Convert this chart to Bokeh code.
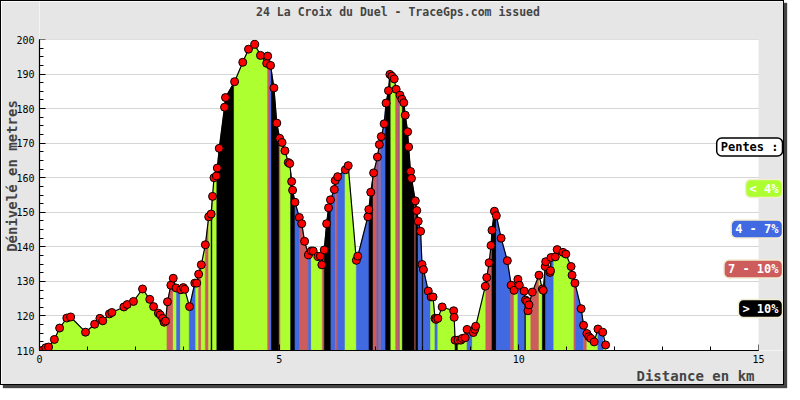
import numpy as np
from bokeh.plotting import figure
from bokeh.models import Range1d, FixedTicker, Label, BoxAnnotation, Title
from bokeh.embed import file_html
from bokeh.resources import INLINE

# ---- profile data (km, m) ----
dist_km = [0.07, 0.13, 0.19, 0.31, 0.42, 0.57, 0.65, 0.96, 1.15, 1.26, 1.32, 1.46, 1.51,
           1.76, 1.83, 1.96, 2.15, 2.30, 2.38, 2.48, 2.52, 2.57, 2.60, 2.63, 2.67, 2.74,
           2.79, 2.85, 2.95, 3.00, 3.03, 3.13, 3.24, 3.28, 3.32, 3.375, 3.46, 3.53, 3.58,
           3.61, 3.64, 3.69, 3.71, 3.75, 3.86, 3.88, 4.07, 4.24, 4.36, 4.49, 4.61, 4.74,
           4.76, 4.82, 4.89, 4.95, 5.01, 5.06, 5.12, 5.19, 5.22, 5.26, 5.28, 5.33, 5.42,
           5.47, 5.53, 5.61, 5.67, 5.71, 5.81, 5.86, 5.89, 5.94, 5.99, 6.03, 6.07, 6.15,
           6.17, 6.22, 6.38, 6.44, 6.61, 6.64, 6.85, 6.87, 6.91, 6.97, 7.05, 7.09, 7.13,
           7.19, 7.23, 7.28, 7.31, 7.35, 7.40, 7.44, 7.52, 7.56, 7.60, 7.63, 7.68, 7.70,
           7.74, 7.76, 7.84, 7.87, 7.90, 7.95, 7.98, 8.01, 8.11, 8.17, 8.21, 8.25, 8.27,
           8.31, 8.40, 8.64, 8.65, 8.67, 8.73, 8.79, 8.82, 8.88, 8.92, 9.05, 9.08, 9.10,
           9.30, 9.33, 9.38, 9.42, 9.44, 9.49, 9.53, 9.63, 9.76, 9.84, 9.90, 9.98, 10.01,
           10.11, 10.14, 10.17, 10.19, 10.21, 10.28, 10.42, 10.49, 10.51, 10.55, 10.56,
           10.65, 10.66, 10.67, 10.76, 10.80, 10.92, 10.98, 11.09, 11.11, 11.17, 11.30,
           11.35, 11.42, 11.46, 11.50, 11.57, 11.65, 11.75, 11.81]
elev_m = [110.1, 110.8, 111.0, 113.2, 116.5, 119.4, 119.7, 115.3, 117.6, 119.3, 118.6, 120.6, 121.0,
          122.6, 123.3, 124.2, 127.8, 124.8, 122.7, 120.8, 120.3, 119.3, 118.2, 118.5, 124.1, 128.9,
          130.9, 128.1, 127.6, 128.2, 127.7, 122.7, 129.5, 129.5, 132.1, 134.8, 140.6, 148.7, 149.5,
          154.6, 160.0, 160.5, 162.8, 168.5, 180.4, 183.2, 187.8, 193.4, 197.2, 198.6, 195.4, 193.1,
          195.2, 192.5, 186.0, 175.8, 171.4, 170.2, 167.8, 164.4, 164.1, 158.9, 156.4, 152.9, 148.5,
          146.7, 141.6, 137.7, 138.8, 138.8, 137.2, 137.3, 134.8, 139.1, 146.7, 151.3, 153.6, 156.6,
          159.2, 160.3, 162.3, 163.5, 136.1, 137.3, 148.7, 150.8, 155.8, 161.4, 166.0, 169.6, 171.9,
          175.6, 181.6, 185.2, 189.9, 189.4, 188.6, 185.6, 183.9, 182.7, 181.7, 178.1, 173.3, 168.9,
          161.8, 159.8, 153.3, 150.5, 147.4, 144.5, 134.9, 133.4, 127.2, 125.5, 125.5, 119.3, 119.0,
          119.3, 122.6, 121.5, 119.6, 113.0, 113.0, 113.0, 113.5, 113.7, 116.1, 115.2, 116.1, 117.0,
          128.6, 131.1, 135.4, 140.4, 144.8, 150.3, 149.0, 142.5, 136.0, 128.9, 127.4, 130.6, 128.9,
          127.2, 124.6, 124.2, 121.5, 123.2, 126.9, 131.8, 127.8, 127.4, 134.3, 135.7,
          132.6, 133.1, 136.9, 137.1, 139.2, 138.4, 137.9, 134.3, 131.8, 129.5, 122.1,
          117.3, 114.9, 114.0, 113.5, 112.5, 116.2, 115.3, 111.6]

# ---- slope bands: start of each band (km) and slope class (0:<4%, 1:4-7%, 2:7-10%, 3:>10%) ----
band_start_km = [0.07, 2.66, 2.79, 2.86, 2.94, 3.125, 3.26, 3.32, 3.375, 3.46, 3.53, 3.58, 3.61,
                 3.70, 4.06, 4.76, 4.81, 4.84, 5.00, 5.03, 5.24, 5.33, 5.43, 5.61, 5.67, 5.90,
                 5.94, 6.08, 6.17, 6.21, 6.375, 6.61, 6.875, 6.96, 7.04, 7.08, 7.12, 7.22, 7.33,
                 7.43, 7.50, 7.52, 7.57, 7.83, 7.85, 7.90, 7.985, 8.01, 8.16, 8.25, 8.31, 8.67,
                 8.73, 8.92, 9.03, 9.31, 9.44, 9.53, 9.83, 9.90, 9.98, 10.125, 10.15, 10.25,
                 10.42, 10.49, 10.56, 10.73, 11.15, 11.18, 11.35, 11.42, 11.65, 11.77]
band_class = [0, 2, 0, 1, 0, 1, 0, 2, 0, 2, 0, 3, 0,
              3, 0, 2, 1, 3, 2, 0, 3, 1, 2, 1, 0, 2,
              3, 1, 2, 1, 0, 1, 3, 2, 1, 2, 1, 3, 0,
              2, 1, 0, 3, 2, 3, 1, 3, 1, 0, 1, 0, 3,
              0, 1, 0, 2, 3, 1, 2, 0, 1, 3, 0, 2,
              0, 3, 1, 0, 2, 1, 2, 0, 1, 0]

slope_labels = ["< 4%", "4 - 7%", "7 - 10%", "> 10%"]
slope_colors = ["#adff2f", "#4169e1", "#cd5c5c", "#000000"]
legend_title = "Pentes :"
title_text = "24 La Croix du Duel - TraceGps.com issued"
x_label = "Distance en km"
y_label = "Dénivelé en metres"
x_ticks = [0, 5, 10, 15]
y_ticks = list(range(110, 201, 10))

Y0, Y1 = 110, 200
X_MAX = 15
MONO = "DejaVu Sans Mono"
GREY = "#e6e6e6"

# layout (canvas pixels); the frame spans the top and right margins, which are painted grey
CANVAS_W, CANVAS_H = 784, 385
FRAME_L, FRAME_B = 37, 349
TOP_200_PX = 38       # where 200 m sits
KM15_PX = 757         # where 15 km sits
PX_PER_KM = (KM15_PX - FRAME_L) / X_MAX
PX_PER_M = (FRAME_B - TOP_200_PX) / (Y1 - Y0)
x_end = X_MAX + (CANVAS_W - KM15_PX) / PX_PER_KM
y_end = Y1 + TOP_200_PX / PX_PER_M

def km_at(px):
    return (px - FRAME_L) / PX_PER_KM

def m_at(py):
    return Y1 - (py - TOP_200_PX) / PX_PER_M

p = figure(width=CANVAS_W, height=CANVAS_H, output_backend="svg", toolbar_location=None,
           x_range=Range1d(0, x_end), y_range=Range1d(Y0, y_end),
           min_border_left=FRAME_L, min_border_right=0, min_border_top=0,
           min_border_bottom=CANVAS_H - FRAME_B)
p.styles = {"border": "1px solid #000", "box-shadow": "3px 3px 1px #444"}
p.background_fill_color = "white"
p.border_fill_color = GREY
p.outline_line_color = None

# axes
p.xaxis.ticker = FixedTicker(ticks=x_ticks, minor_ticks=list(range(0, 16)))
p.xaxis.bounds = (0, X_MAX)
p.yaxis.ticker = FixedTicker(ticks=y_ticks, minor_ticks=list(np.arange(110, 200.1, 2.5)))
p.yaxis.bounds = (Y0, Y1)
for ax in (p.xaxis[0], p.yaxis[0]):
    ax.axis_line_color = "black"
    ax.axis_line_width = 1.2
    ax.major_tick_in = 6
    ax.major_tick_out = 0
    ax.minor_tick_in = 4
    ax.minor_tick_out = 0
    ax.major_tick_line_color = "black"
    ax.minor_tick_line_color = "black"
    ax.major_label_text_font = MONO
    ax.major_label_text_font_size = "10px"
    ax.major_label_text_color = "black"
p.xaxis.major_label_standoff = 4
p.yaxis.major_label_standoff = 5
p.yaxis.axis_label = y_label
p.yaxis.axis_label_standoff = -7
p.yaxis.axis_label_text_font = MONO
p.yaxis.axis_label_text_font_style = "bold"
p.yaxis.axis_label_text_font_size = "14px"
p.xgrid.grid_line_color = None
p.ygrid.grid_line_color = "#d6d6d6"
p.ygrid.grid_line_width = 1.2

p.add_layout(Title(text=x_label, align="left", offset=634 - FRAME_L, standoff=0,
                   text_font=MONO, text_font_style="bold", text_font_size="14px"), "below")

# grey margins right of 15 km and above 200 m
p.add_layout(BoxAnnotation(left=X_MAX, fill_color=GREY, fill_alpha=1, line_color=None))
p.add_layout(BoxAnnotation(bottom=Y1, fill_color=GREY, fill_alpha=1, line_color=None))

# slope bands
d = np.array(dist_km)
e = np.array(elev_m)
edges = band_start_km + [dist_km[-1]]
xs, ys, cs = [], [], []
for i, cls in enumerate(band_class):
    a, b = edges[i], edges[i + 1]
    inner = [v for v in dist_km if a < v < b]
    px = [a] + inner + [b]
    py = list(np.interp(px, d, e))
    xs.append([a] + px + [b])
    ys.append([Y0] + py + [Y0])
    cs.append(slope_colors[cls])
p.patches(xs, ys, fill_color=cs, line_color=cs, line_width=0.6)

# profile line and points
p.line(dist_km, elev_m, line_color="black", line_width=1.2)
p.scatter(dist_km, elev_m, size=8, fill_color="#ff0000", line_color="black", line_width=1)

# title
p.add_layout(Label(x=km_at(396), y=m_at(10), text=title_text, text_align="center",
                   text_baseline="middle", text_font=MONO, text_font_style="bold",
                   text_font_size="11.5px"))

# legend boxes (screen positions converted to data)
legend_x = km_at(781)
legend_py = [145.5, 187, 227.5, 267.5, 307]
entries = [(legend_title, "white", "black", "black")] + \
          [(slope_labels[k], slope_colors[k], "white", "#f3edcf") for k in range(4)]
for (txt, bg, fg, bd), py in zip(entries, legend_py):
    common = dict(x=legend_x, y=m_at(py), text=txt, text_align="right", text_baseline="middle",
                  text_font=MONO, text_font_style="bold", text_font_size="12px",
                  padding=(4, 2), border_radius=5)
    p.add_layout(Label(**common, text_alpha=0, background_fill_color="#9c9c9c",
                       x_offset=3, y_offset=-3))
    p.add_layout(Label(**common, text_color=fg, background_fill_color=bg,
                       border_line_color=bd, border_line_width=1.5))

open("out.html", "w").write(file_html(p, INLINE))
